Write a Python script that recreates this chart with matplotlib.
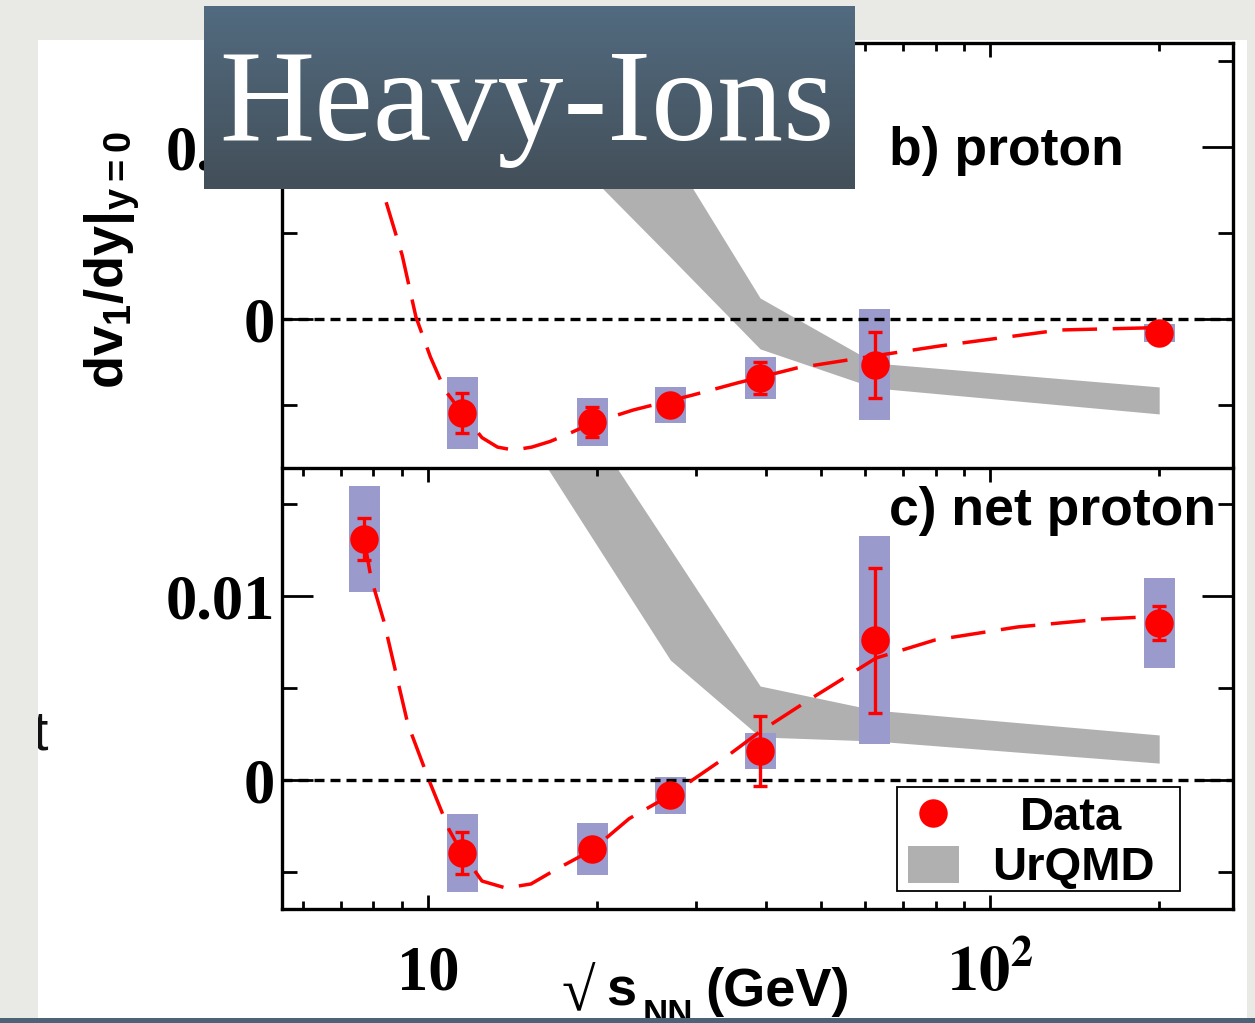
import numpy as np
import matplotlib
matplotlib.use("Agg")
import matplotlib.pyplot as plt
from matplotlib.patches import Rectangle
from matplotlib.lines import Line2D
from matplotlib.ticker import FixedLocator, LogLocator, NullFormatter
from matplotlib.transforms import Bbox, TransformedBbox

plt.rcParams["mathtext.fontset"] = "custom"
plt.rcParams["mathtext.rm"] = "Liberation Sans:bold"
plt.rcParams["mathtext.it"] = "Liberation Sans:bold"
plt.rcParams["mathtext.bf"] = "Liberation Sans:bold"

# ---------------- data ----------------
# beam energies (GeV)
proton_energy = [11.5, 19.6, 27, 39, 62.4, 200]
proton_dv1 = [-0.00547, -0.00599, -0.00500, -0.00343, -0.00267, -0.00081]
proton_stat = [0.00116, 0.00087, 0.00060, 0.00095, 0.00190, 0.00030]
proton_sys = [0.00210, 0.00142, 0.00105, 0.00120, 0.00323, 0.00050]

proton_fit_energy = [7.7, 8.28, 9.0, 9.52, 10.1, 10.72, 11.5, 12.48, 13.3, 14.2,
                     15.3, 16.5, 18.0, 19.6, 23.2, 29.6, 35.5, 45.3, 60.4, 81.3,
                     133, 188, 200]
proton_fit_dv1 = [0.0125, 0.00762, 0.0037, 0.00012, -0.0022, -0.00413, -0.00547,
                  -0.00690, -0.00745, -0.00762, -0.00745, -0.00712, -0.00660,
                  -0.00605, -0.00529, -0.00442, -0.00372, -0.00285, -0.00221,
                  -0.00157, -0.00064, -0.00052, -0.00047]

urqmd_p_energy = [19.6, 27, 39, 62.4, 200]
urqmd_p_low = [0.0082, 0.0036, -0.00174, -0.00401, -0.00552]
urqmd_p_high = [0.0200, 0.0097, 0.00122, -0.00256, -0.00395]

netp_energy = [7.7, 11.5, 19.6, 27, 39, 62.4, 200]
netp_dv1 = [0.0131, -0.00397, -0.00375, -0.00082, 0.00158, 0.00761, 0.00853]
netp_stat = [0.00114, 0.00113, 0.00050, 0.00040, 0.00190, 0.00394, 0.00094]
netp_sys = [0.00288, 0.00212, 0.00141, 0.00100, 0.00098, 0.00563, 0.00245]

netp_fit_energy = [7.7, 7.92, 8.35, 9.21, 10.04, 10.9, 11.5, 12.48, 13.76, 15.25,
                   16.83, 19.6, 22.8, 27.0, 33.9, 39.1, 47.6, 62.7, 79.8, 112,
                   158, 188, 200]
netp_fit_dv1 = [0.0131, 0.01098, 0.00862, 0.00304, 0.0, -0.00269, -0.00397,
                -0.00549, -0.00587, -0.00565, -0.00489, -0.00380, -0.00210,
                -0.00082, 0.00125, 0.00266, 0.00435, 0.00663, 0.00761, 0.00832,
                0.00875, 0.00886, 0.00891]

urqmd_np_energy = [11.5, 19.6, 27, 39, 62.4, 200]
urqmd_np_low = [0.0242, 0.01315, 0.00652, 0.00234, 0.00212, 0.00092]
urqmd_np_high = [0.0350, 0.0190, 0.01255, 0.00511, 0.00380, 0.00245]

x_ticks = [10, 100]
x_ticklabels = ["10", r"$\mathbf{10^{2}}$"]
y_ticks = [0, 0.01]
y_ticklabels = ["0", "0.01"]
y_minor = [-0.005, 0.005, 0.015]

# ---------------- layout helpers ----------------
W, H = 1255, 1023
fig = plt.figure(figsize=(W / 100, H / 100), dpi=100)
fig.patch.set_facecolor("#e9e9e6")


def fx(x):
    return x / W


def fy(y):
    return 1 - y / H


def rect(x0, y0, x1, y1):
    return [fx(x0), fy(y1), fx(x1) - fx(x0), fy(y0) - fy(y1)]


# white sheet behind the figure
fig.patches.append(Rectangle((fx(38), fy(1018)), fx(1247) - fx(38), fy(40) - fy(1018),
                             transform=fig.transFigure, facecolor="white",
                             edgecolor="none", zorder=-10))

RED = "#ff0000"
BOX = "#9a9acd"
BAND = "#b0b0b0"
SERIF = "Liberation Serif"
SANS = "Liberation Sans"


def draw_panel(ax, e, v, stat, sys, fe, fv, be, blo, bhi, ylim, show_x):
    ax.set_xscale("log")
    ax.set_xlim(5.5, 270.6)
    ax.set_ylim(*ylim)
    ax.set_facecolor("none")
    ax.fill_between(be, blo, bhi, color=BAND, lw=0, zorder=1)
    hw = 0.0275
    for ei, vi, si in zip(e, v, sys):
        ax.add_patch(Rectangle((ei * 10 ** -hw, vi - si), ei * (10 ** hw - 10 ** -hw), 2 * si,
                               facecolor=BOX, edgecolor="none", zorder=2))
    ax.axhline(0, color="black", lw=2.4, ls=(0, (3.0, 1.8)), zorder=3)
    ax.plot(fe, fv, color=RED, lw=2.5, ls=(0, (10, 4.5)), zorder=4)
    ax.errorbar(e, v, yerr=stat, fmt="none", ecolor=RED, elinewidth=2.4,
                capsize=4.8, capthick=2.4, zorder=5)
    ax.plot(e, v, "o", color=RED, ms=20.5, mec="none", zorder=6)

    for s in ax.spines.values():
        s.set_linewidth(2.4)
    ax.xaxis.set_major_locator(FixedLocator(x_ticks))
    ax.xaxis.set_minor_locator(LogLocator(base=10, subs=np.arange(2, 10)))
    ax.xaxis.set_minor_formatter(NullFormatter())
    ax.yaxis.set_minor_locator(FixedLocator(y_minor))
    ax.set_yticks(y_ticks, labels=y_ticklabels, fontfamily=SERIF,
                  fontweight="bold", fontsize=45)
    ax.tick_params(axis="y", which="major", direction="in", length=22, width=2,
                   left=True, right=True, pad=5)
    ax.tick_params(axis="y", which="minor", direction="in", length=11, width=2,
                   left=True, right=True)
    ax.tick_params(axis="x", which="major", direction="in", length=10, width=2,
                   top=True, bottom=show_x, labelbottom=show_x, pad=58)
    ax.tick_params(axis="x", which="minor", direction="in", length=5.5, width=2,
                   top=True, bottom=show_x)
    if show_x:
        ax.set_xticks(x_ticks, labels=x_ticklabels, fontfamily=SERIF,
                      fontweight="bold", fontsize=45, math_fontfamily="stix")
        for lbl in ax.get_xticklabels():
            lbl.set_verticalalignment("baseline")
    else:
        ax.spines["bottom"].set_visible(False)


ax_b = fig.add_axes(rect(282, 43, 1233, 465))
draw_panel(ax_b, proton_energy, proton_dv1, proton_stat, proton_sys,
           proton_fit_energy, proton_fit_dv1,
           urqmd_p_energy, urqmd_p_low, urqmd_p_high,
           (-0.00849, 0.01605), False)

ax_c = fig.add_axes(rect(282, 468, 1233, 909))
draw_panel(ax_c, netp_energy, netp_dv1, netp_stat, netp_sys,
           netp_fit_energy, netp_fit_dv1,
           urqmd_np_energy, urqmd_np_low, urqmd_np_high,
           (-0.00701, 0.01696), True)

# panel tags
fig.text(fx(889), fy(165), "b) proton", fontfamily=SANS, fontweight="bold",
         fontsize=38.5, va="baseline", ha="left")
fig.text(fx(889), fy(525), "c) net proton", fontfamily=SANS, fontweight="bold",
         fontsize=38.5, va="baseline", ha="left")

# legend
fig.patches.append(Rectangle((fx(897), fy(891)), fx(1180) - fx(897), fy(787) - fy(891),
                             transform=fig.transFigure, facecolor="white",
                             edgecolor="black", lw=1.3, zorder=7))
fig.add_artist(Line2D([fx(933)], [fy(813)], marker="o", color=RED, ms=20.5,
                      mec="none", transform=fig.transFigure, zorder=8))
fig.patches.append(Rectangle((fx(908), fy(883)), fx(959) - fx(908), fy(846) - fy(883),
                             transform=fig.transFigure, facecolor=BAND,
                             edgecolor="none", zorder=8))
fig.text(fx(1020), fy(830), "Data", fontfamily=SANS, fontweight="bold",
         fontsize=34, va="baseline", zorder=8)
fig.text(fx(992), fy(880), "UrQMD", fontfamily=SANS, fontweight="bold",
         fontsize=34, va="baseline", zorder=8)

# axis titles
fig.text(fx(112), fy(260), r"$dv_{1}/dy|_{y=0}$", rotation=90, fontsize=39,
         ha="center", va="center", math_fontfamily="custom")
fig.text(fx(561), fy(1010), "\u221a", fontfamily=SERIF, fontsize=44, va="baseline")
fig.text(fx(606), fy(1006), "s", fontfamily=SANS, fontweight="bold", fontsize=39,
         va="baseline")
fig.text(fx(643), fy(1024), "NN", fontfamily=SANS, fontweight="bold", fontsize=25,
         va="baseline")
fig.text(fx(705), fy(1006), "(GeV)", fontfamily=SANS, fontweight="bold", fontsize=39,
         va="baseline")

# stray letter at the sheet's left edge
t = fig.text(fx(32), fy(749), "t", fontfamily=SANS, fontsize=40, va="baseline",
             color="#111111")
t.set_clip_box(TransformedBbox(Bbox.from_extents(fx(38), fy(1018), fx(1247), fy(40)),
                               fig.transFigure))
t.set_clip_on(True)

# title banner with vertical gradient
tax = fig.add_axes(rect(204, 6, 855, 189), zorder=10)
top_c = np.array([0x52, 0x6b, 0x80]) / 255
bot_c = np.array([0x43, 0x4f, 0x59]) / 255
g = np.linspace(0, 1, 256)[:, None]
grad = (top_c[None, :] * (1 - g) + bot_c[None, :] * g)[:, None, :]
tax.imshow(grad, aspect="auto", extent=(0, 1, 0, 1), interpolation="bilinear")
tax.set_axis_off()
fig.text(fx(219), fy(140), "Heavy-Ions", fontfamily=SERIF, fontsize=95,
         color="white", va="baseline", zorder=12)

# bottom strip
fig.patches.append(Rectangle((0, 0), 1, fy(1018), transform=fig.transFigure,
                             facecolor="#4b6277", edgecolor="none", zorder=20))

fig.savefig("out.png", dpi=100, facecolor=fig.get_facecolor())
